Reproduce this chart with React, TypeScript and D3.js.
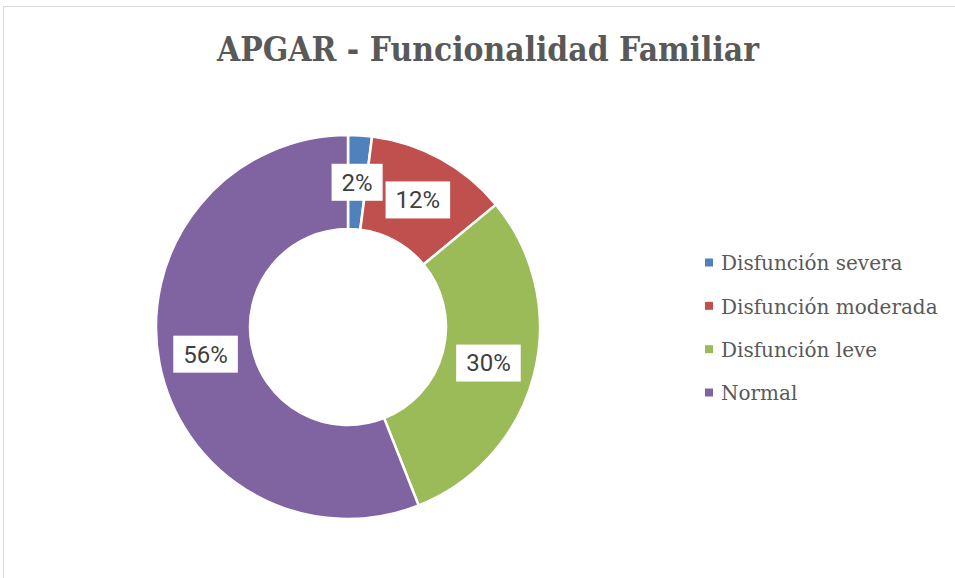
import React, { useEffect, useRef } from "react";
import * as d3 from "d3";

const categories = ["Disfunción severa", "Disfunción moderada", "Disfunción leve", "Normal"];
const values = [2, 12, 30, 56];
const colors = ["#4f81bd", "#c0504d", "#9bbb59", "#8064a2"];
const title = "APGAR - Funcionalidad Familiar";

const W = 955;
const H = 578;

export default function App() {
  const ref = useRef<SVGSVGElement | null>(null);

  useEffect(() => {
    const svg = d3.select(ref.current);
    svg.selectAll("*").remove();

    svg
      .append("rect")
      .attr("x", 3.5)
      .attr("y", 6.5)
      .attr("width", 1200)
      .attr("height", 1200)
      .attr("fill", "#fff")
      .attr("stroke", "#d9d9d9")
      .attr("stroke-width", 1);

    svg
      .append("text")
      .attr("x", 488)
      .attr("y", 61)
      .attr("text-anchor", "middle")
      .attr("font-family", "DejaVu Serif")
      .attr("font-weight", "bold")
      .attr("font-size", 33)
      .attr("fill", "#595959")
      .attr("textLength", 542)
      .attr("lengthAdjust", "spacingAndGlyphs")
      .text(title);

    const cx = 348, cy = 327, rOuter = 192, rInner = 98;
    const total = d3.sum(values);
    const pie = d3.pie<number>().sort(null).value((d) => d);
    const arcs = pie(values);
    const arc = d3.arc<d3.PieArcDatum<number>>().innerRadius(rInner).outerRadius(rOuter);
    const labelArc = d3.arc<d3.PieArcDatum<number>>().innerRadius((rInner + rOuter) / 2).outerRadius((rInner + rOuter) / 2);

    const g = svg.append("g").attr("transform", `translate(${cx},${cy})`);
    g.selectAll("path.slice")
      .data(arcs)
      .enter()
      .append("path")
      .attr("class", "slice")
      .attr("d", arc)
      .attr("fill", (_d, i) => colors[i])
      .attr("stroke", "#fff")
      .attr("stroke-width", 2.5)
      .attr("stroke-linejoin", "round");

    const fmt = d3.format(".0%");
    arcs.forEach((a) => {
      const [lx, ly] = labelArc.centroid(a);
      const lg = g.append("g").attr("transform", `translate(${lx},${ly})`);
      const rect = lg.append("rect").attr("fill", "#fff");
      const t = lg
        .append("text")
        .attr("text-anchor", "middle")
        .attr("dy", "0.35em")
        .attr("font-family", "Roboto")
        .attr("font-size", 24)
        .attr("fill", "#404040")
        .text(fmt(a.data / total));
      const w = (t.node() as SVGTextElement).getComputedTextLength();
      rect
        .attr("x", -w / 2 - 10)
        .attr("y", -18.5)
        .attr("width", w + 20)
        .attr("height", 37);
    });

    const legendY = d3.scalePoint<string>().domain(categories).range([263, 393]);
    const lgd = svg.append("g");
    categories.forEach((c, i) => {
      const y = legendY(c) as number;
      lgd
        .append("rect")
        .attr("x", 705)
        .attr("y", y - 4.5)
        .attr("width", 8)
        .attr("height", 8)
        .attr("fill", colors[i]);
      lgd
        .append("text")
        .attr("x", 721)
        .attr("y", y)
        .attr("dy", "0.36em")
        .attr("font-family", "DejaVu Serif")
        .attr("font-size", 20)
        .attr("fill", "#595959")
        .text(c);
    });
  }, []);

  return (
    <svg
      ref={ref}
      width={W}
      height={H}
      style={{ position: "absolute", left: 0, top: 0, display: "block", background: "#fff" }}
    />
  );
}
